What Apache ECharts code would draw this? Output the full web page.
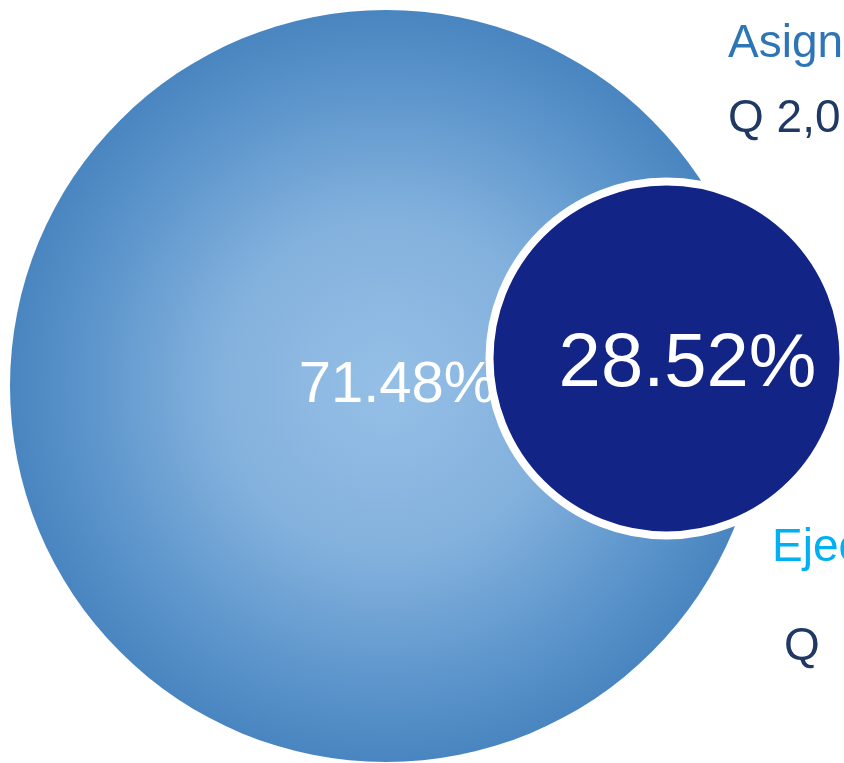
<!DOCTYPE html>
<html>
<head>
<meta charset="utf-8">
<style>
html,body{margin:0;padding:0;background:#ffffff;}
#chart{width:844px;height:763px;}
</style>
<script src="https://cdn.jsdelivr.net/npm/echarts@6/dist/echarts.min.js"></script>
</head>
<body>
<div id="chart"></div>
<script>
// ---- data ----
var categories = ['Asignado', 'Ejecutado'];
var percents = [71.48, 28.52];
var amountLabels = ['Q 2,0', 'Q'];

// ---- layout / style ----
var FONT = 'Liberation Sans';
var chart = echarts.init(document.getElementById('chart'), null, {renderer: 'canvas'});

function fmt(v) { return v.toFixed(2) + '%'; }

function sideText(txt, x, y, color) {
  return {
    type: 'text', x: x, y: y, silent: true,
    style: {text: txt, fill: color, fontSize: 46, fontFamily: FONT,
            align: 'left', verticalAlign: 'middle'}
  };
}

var option = {
  backgroundColor: '#ffffff',
  animation: false,
  series: [
    {
      type: 'pie',
      name: categories[0],
      center: [386, 386],
      radius: [0, 376],
      silent: true,
      label: {
        show: true,
        position: 'center',
        formatter: function (p) { return fmt(p.value); },
        color: '#ffffff',
        fontFamily: FONT,
        fontSize: 58,
        offset: [11, 0]
      },
      labelLine: {show: false},
      itemStyle: {
        color: {
          type: 'radial', x: 0.5, y: 0.5, r: 0.5,
          colorStops: [
            {offset: 0, color: '#95BFE6'},
            {offset: 0.45, color: '#83B1DD'},
            {offset: 0.75, color: '#6199CE'},
            {offset: 1, color: '#4985C0'}
          ]
        },
        borderWidth: 0
      },
      data: [{name: categories[0], value: percents[0]}]
    },
    {
      type: 'pie',
      name: categories[1],
      center: [666.5, 358.5],
      radius: [0, 177],
      silent: true,
      label: {
        show: true,
        position: 'center',
        formatter: function (p) { return fmt(p.value); },
        color: '#ffffff',
        fontFamily: FONT,
        fontSize: 76,
        offset: [21, 7]
      },
      labelLine: {show: false},
      itemStyle: {
        color: '#122486',
        borderColor: '#ffffff',
        borderWidth: 8
      },
      data: [{name: categories[1], value: percents[1]}]
    }
  ],
  graphic: [
    sideText(categories[0], 728, 44, '#2E75B6'),
    sideText(amountLabels[0], 728, 119, '#1F3864'),
    sideText(categories[1], 772, 548, '#00B0F0'),
    sideText(amountLabels[1], 784, 647, '#1F3864')
  ]
};
chart.setOption(option);
</script>
</body>
</html>
